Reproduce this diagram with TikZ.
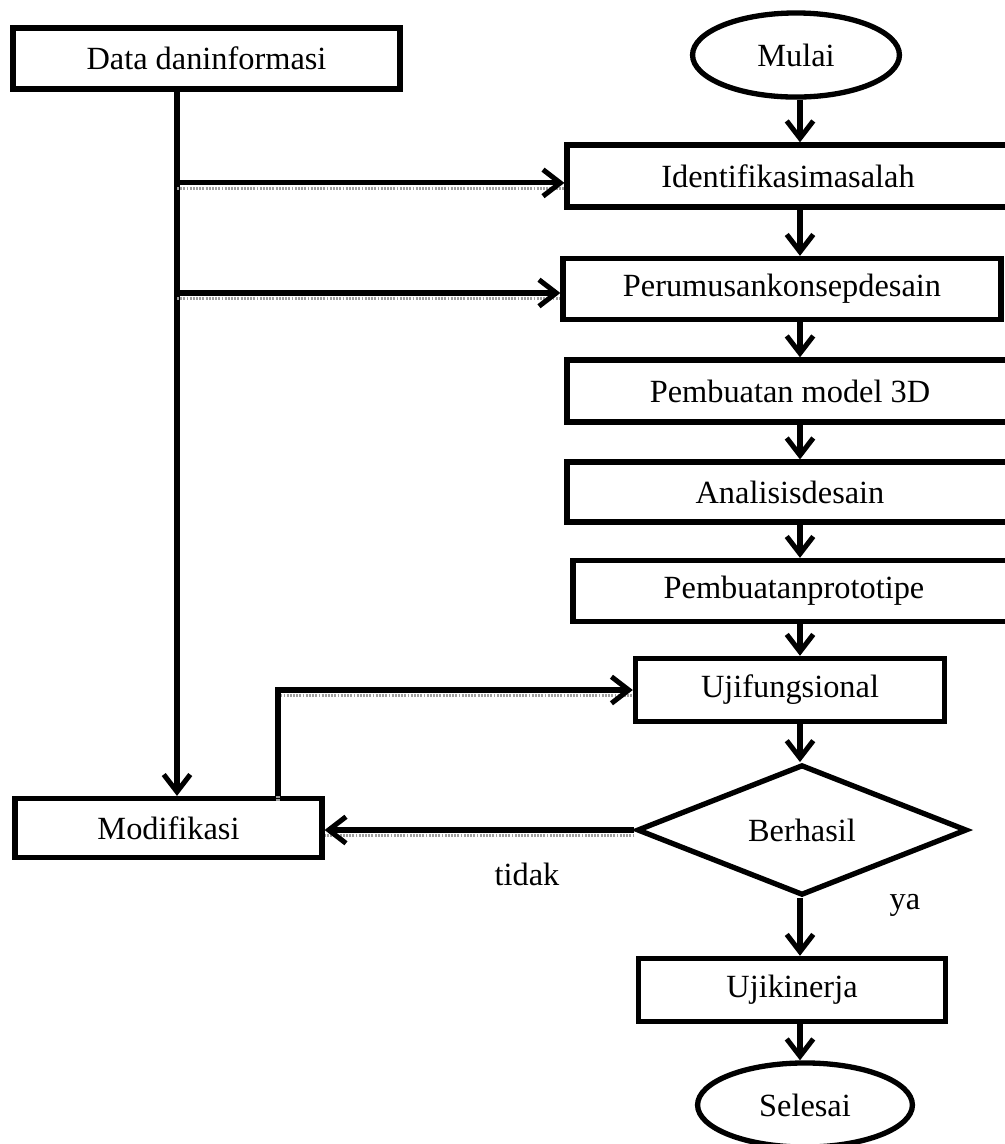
\documentclass[tikz,border=0pt]{standalone}
\usepackage{fontspec}
\setmainfont{Liberation Serif}
\usetikzlibrary{arrows.meta,shapes.geometric}
\begin{document}
\begin{tikzpicture}[x=0.377pt,y=-0.377pt,
  every node/.style={font=\fontsize{12.2}{14}\selectfont, inner sep=0pt},
  stepbox/.style={draw, line width=2pt, rectangle, minimum height=23pt},
  termbox/.style={draw, line width=2pt, ellipse, minimum width=78pt, minimum height=31.7pt},
  decbox/.style={draw, line width=2pt, diamond, minimum width=124.4pt, minimum height=43.7pt},
  arr/.style={line width=1.9pt, -{Straight Barb[length=6.5pt,width=10pt,line width=1.9pt]}},
  hshadow/.style={preaction={draw=gray!75, line width=1.2pt, dash pattern=on 0.7pt off 0.5pt, -, transform canvas={yshift=-2pt}}}
]
\useasboundingbox (0,0) rectangle (1005,1144);
\fill[white] (0,0) rectangle (1005,1144);

% nodes
\node[stepbox, minimum width=145.9pt] (data) at (206.5,58.5) {Data daninformasi};
\node[termbox] (mulai) at (796,55) {Mulai};
\node[stepbox, minimum width=166.6pt, minimum height=23.4pt] (ident) at (788,176) {Identifikasimasalah};
\node[stepbox, minimum width=165.1pt] (perum) at (782,289) {Perumusankonsepdesain};
\node[stepbox, minimum width=168.1pt, minimum height=23.4pt] (model) at (790,391) {Pembuatan model 3D};
\node[stepbox, minimum width=168.1pt, minimum height=22.6pt] (anal) at (790,492) {Analisisdesain};
\node[stepbox, minimum width=166.6pt] (proto) at (794,591) {Pembuatanprototipe};
\node[stepbox, minimum width=116.5pt, minimum height=23.8pt] (ujif) at (790,690) {Ujifungsional};
\node[decbox] (berh) at (802,830) {Berhasil};
\node[stepbox, minimum width=115.7pt, minimum height=23.8pt] (ujik) at (792,990) {Ujikinerja};
\node[termbox, minimum width=81pt] (selesai) at (805,1105) {Selesai};
\node[stepbox, minimum width=115.7pt, minimum height=22.2pt] (modif) at (168.5,828) {Modifikasi};
\node (tidak) at (527,874) {tidak};
\node (ya) at (905,905) {ya};

\coordinate (col) at (800,0);
\coordinate (lc) at (177,0);
\coordinate (mc) at (278,0);
\coordinate (identin) at ([yshift=-2.6pt]ident.west);
\coordinate (perumin) at ([yshift=-1.5pt]perum.west);

% main column
\draw[arr] (col |- mulai.south) -- (col |- ident.north);
\draw[arr] (col |- ident.south) -- (col |- perum.north);
\draw[arr] (col |- perum.south) -- (col |- model.north);
\draw[arr] (col |- model.south) -- (col |- anal.north);
\draw[arr] (col |- anal.south) -- (col |- proto.north);
\draw[arr] (col |- proto.south) -- (col |- ujif.north);
\draw[arr] (col |- ujif.south) -- (col |- berh.north);
\draw[arr] (col |- berh.south) -- (col |- ujik.north);
\draw[arr] (col |- ujik.south) -- (col |- selesai.north);

% left side
\draw[arr] (lc |- data.south) -- (lc |- modif.north);
\draw[arr, hshadow] (lc |- identin) -- (identin);
\draw[arr, hshadow] (lc |- perumin) -- (perumin);
\draw[arr, hshadow] (mc |- modif.north) |- (ujif.west);
\draw[arr, hshadow] (berh.west) -- (berh.west -| modif.east);
\end{tikzpicture}
\end{document}
